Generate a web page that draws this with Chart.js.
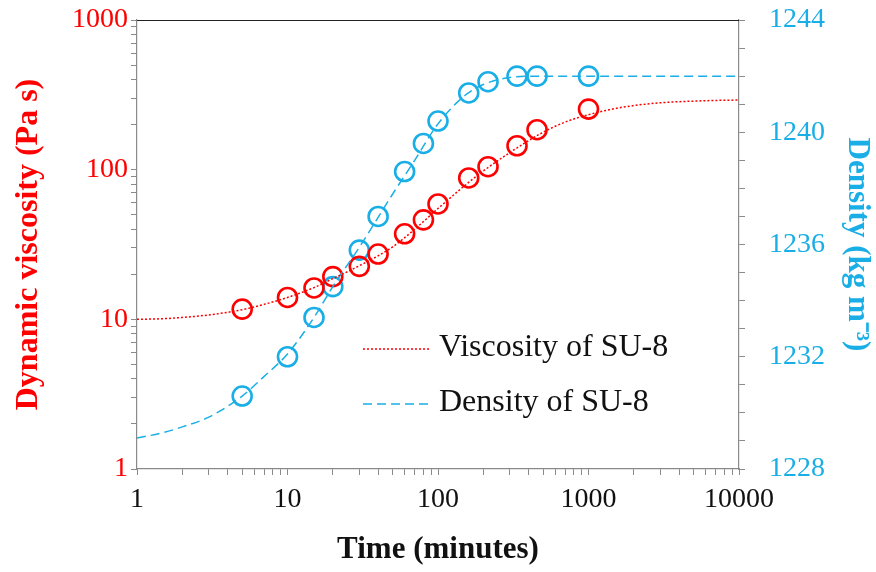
<!DOCTYPE html>
<html>
<head>
<meta charset="utf-8">
<script src="https://cdn.jsdelivr.net/npm/chart.js@4/dist/chart.umd.min.js"></script>
<style>
html,body{margin:0;padding:0;background:#fff;}
canvas{display:block;}
</style>
</head>
<body>
<canvas id="c" width="876" height="572"></canvas>
<script>
// ---- measured data (time in minutes) ----
const time = [5, 10, 15, 20, 30, 40, 60, 80, 100, 160, 215, 335, 455, 1000];
const viscosity = [11.7, 14.0, 16.2, 19.3, 22.6, 27.3, 37.3, 46.2, 59, 88, 104.7, 144.5, 185, 254];
const density = [1230.6, 1232.0, 1233.4, 1234.5, 1235.8, 1237.0, 1238.6, 1239.6, 1240.4, 1241.4, 1241.8, 1242.0, 1242.0, 1242.0];

// ---- fitted curves ----
const curveTime = [1, 1.5, 2, 3, 5, 7, 10, 15, 20, 30, 50, 70, 100, 150, 200, 300, 500, 700, 1000, 1500, 2000, 3000, 5000, 7000, 10000];
const viscosityCurve = [10.0, 10.1, 10.3, 10.7, 11.6, 12.6, 14.0, 16.3, 18.7, 22.8, 30.5, 40, 55, 78, 98, 130, 178, 208, 233, 256, 268, 280, 287, 290, 292];
const densityCurve = [1229.1, 1229.3, 1229.5, 1229.85, 1230.6, 1231.3, 1232.1, 1233.4, 1234.5, 1235.9, 1237.8, 1239.0, 1240.3, 1241.3, 1241.7, 1241.95, 1242.0, 1242.0, 1242.0, 1242.0, 1242.0, 1242.0, 1242.0, 1242.0, 1242.0];

// ---- axis tick labels ----
const xTickLabels = [1, 10, 100, 1000, 10000];
const yTickLabels = [1, 10, 100, 1000];
const y2TickLabels = [1228, 1232, 1236, 1240, 1244];

const seriesNames = ['Viscosity of SU-8', 'Density of SU-8'];

const RED = '#ff0000';
const BLUE = '#1aaee6';
const AXIS = '#8a8a8a';
const FONT = '"Liberation Serif", "Times New Roman", serif';

function logTicks(labels) {
  const out = [];
  for (let i = 0; i < labels.length - 1; i++) {
    for (let k = 1; k < 10; k++) out.push({ value: labels[i] * k });
  }
  out.push({ value: labels[labels.length - 1] });
  return out;
}

const pairs = (xs, ys) => xs.map((x, i) => ({ x: x, y: ys[i] }));

const legendPlugin = {
  id: 'inlineLegend',
  afterDatasetsDraw(chart) {
    const ctx = chart.ctx;
    const items = [
      { text: seriesNames[0], color: RED, dash: [2, 2], y: 349 },
      { text: seriesNames[1], color: BLUE, dash: [9, 5], y: 404 }
    ];
    ctx.save();
    items.forEach(it => {
      ctx.beginPath();
      ctx.setLineDash(it.dash);
      ctx.strokeStyle = it.color;
      ctx.lineWidth = 1.5;
      ctx.moveTo(363, it.y);
      ctx.lineTo(430, it.y);
      ctx.stroke();
      ctx.setLineDash([]);
      ctx.fillStyle = '#111';
      ctx.font = '32px ' + FONT;
      ctx.textBaseline = 'middle';
      ctx.textAlign = 'left';
      ctx.fillText(it.text, 439, it.y - 1);
    });
    // top border
    const a = chart.chartArea;
    ctx.beginPath();
    ctx.strokeStyle = '#222';
    ctx.lineWidth = 1.2;
    ctx.moveTo(a.left, a.top + 0.5);
    ctx.lineTo(a.right, a.top + 0.5);
    ctx.stroke();
    ctx.restore();
  }
};

function fitVertical(s) {
  s.width = 137;
  s.paddingTop = 0;
  s.paddingBottom = 0;
}

new Chart(document.getElementById('c'), {
  type: 'line',
  data: {
    datasets: [
      {
        label: seriesNames[0] + ' fit',
        data: pairs(curveTime, viscosityCurve),
        yAxisID: 'y',
        borderColor: RED,
        borderWidth: 1.5,
        borderDash: [2, 2],
        pointRadius: 0,
        cubicInterpolationMode: 'monotone',
        fill: false
      },
      {
        label: seriesNames[1] + ' fit',
        data: pairs(curveTime, densityCurve),
        yAxisID: 'y2',
        borderColor: BLUE,
        borderWidth: 1.5,
        borderDash: [9, 5],
        pointRadius: 0,
        cubicInterpolationMode: 'monotone',
        fill: false
      },
      {
        label: seriesNames[0],
        data: pairs(time, viscosity),
        yAxisID: 'y',
        showLine: false,
        pointRadius: 9.5,
        pointBorderWidth: 2.6,
        pointBorderColor: RED,
        pointBackgroundColor: 'rgba(0,0,0,0)'
      },
      {
        label: seriesNames[1],
        data: pairs(time, density),
        yAxisID: 'y2',
        showLine: false,
        pointRadius: 9.5,
        pointBorderWidth: 2.6,
        pointBorderColor: BLUE,
        pointBackgroundColor: 'rgba(0,0,0,0)'
      }
    ]
  },
  options: {
    responsive: false,
    devicePixelRatio: 1,
    animation: false,
    layout: { padding: { top: 20, left: 0, right: 0, bottom: 0 } },
    plugins: { legend: { display: false }, tooltip: { enabled: false } },
    scales: {
      x: {
        type: 'logarithmic',
        min: 1, max: 10000,
        afterBuildTicks: s => { s.ticks = logTicks(xTickLabels); },
        afterFit: s => { s.height = 103; s.paddingLeft = 0; s.paddingRight = 0; },
        grid: { drawOnChartArea: false, drawTicks: true, tickLength: 6, color: AXIS },
        border: { display: true, color: AXIS, width: 1.2 },
        ticks: {
          autoSkip: false, maxRotation: 0, padding: 8,
          color: '#111',
          font: { family: FONT, size: 28 },
          callback: v => xTickLabels.includes(v) ? String(v) : ''
        },
        title: {
          display: true, text: 'Time (minutes)', color: '#111',
          font: { family: FONT, size: 31, weight: 'bold' },
          padding: { top: 0, bottom: 3 }
        }
      },
      y: {
        type: 'logarithmic',
        position: 'left',
        min: 1, max: 1000,
        afterBuildTicks: s => { s.ticks = logTicks(yTickLabels); },
        afterFit: fitVertical,
        grid: { drawOnChartArea: false, drawTicks: true, tickLength: 6, color: AXIS },
        border: { display: true, color: AXIS, width: 1.2 },
        ticks: {
          autoSkip: false, padding: 3,
          color: RED,
          font: { family: FONT, size: 28 },
          callback: v => yTickLabels.includes(v) ? String(v) : ''
        },
        title: {
          display: true, text: 'Dynamic viscosity (Pa s)', color: RED,
          font: { family: FONT, size: 32, weight: 'bold' },
          padding: { top: 10, bottom: 0 }
        }
      },
      y2: {
        type: 'linear',
        position: 'right',
        min: 1228, max: 1244,
        afterFit: fitVertical,
        grid: { drawOnChartArea: false, drawTicks: true, tickLength: 6, color: AXIS },
        border: { display: true, color: AXIS, width: 1.2 },
        ticks: {
          stepSize: 1, autoSkip: false, padding: 24,
          color: BLUE,
          font: { family: FONT, size: 28 },
          callback: v => y2TickLabels.includes(v) ? String(v) : ''
        },
        title: {
          display: true, text: 'Density (kg m\u207B\u00B3)', color: BLUE,
          font: { family: FONT, size: 31, weight: 'bold' },
          padding: { top: 0, bottom: 0 }
        }
      }
    }
  },
  plugins: [legendPlugin]
});
</script>
</body>
</html>
